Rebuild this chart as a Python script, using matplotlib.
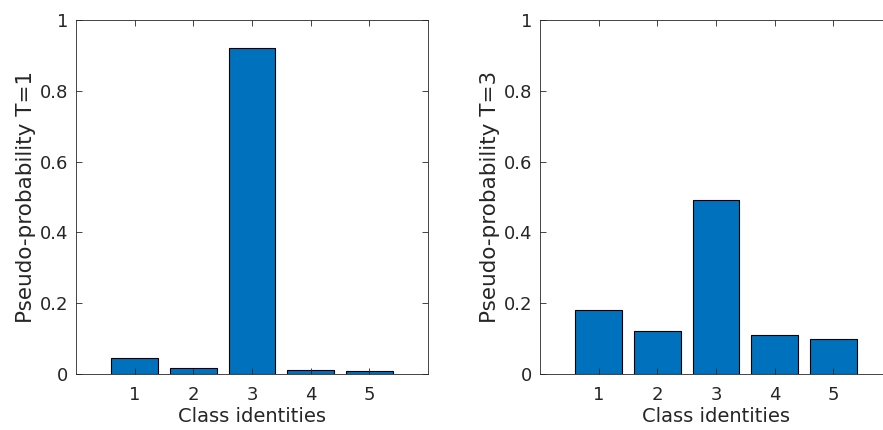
import matplotlib.pyplot as plt

classes = [1, 2, 3, 4, 5]
prob_t1 = [0.046, 0.016, 0.921, 0.012, 0.008]
prob_t3 = [0.182, 0.121, 0.492, 0.110, 0.099]
ylabels = ['Pseudo-probability T=1', 'Pseudo-probability T=3']

plt.rcParams['font.family'] = ['DejaVu Sans']
dark = '#262626'

fig = plt.figure(figsize=(8.83, 4.30), dpi=100)
W, H = 883, 430
positions = [(76, 20, 352, 354), (540, 20, 352, 354)]

for (x0, y0, w, h), vals, lab in zip(positions, [prob_t1, prob_t3], ylabels):
    ax = fig.add_axes([x0 / W, 1 - (y0 + h) / H, w / W, h / H])
    ax.bar(classes, vals, width=0.8, color='#0072BD', edgecolor='black', linewidth=0.8)
    ax.set_xlim(0, 6)
    ax.set_ylim(0, 1)
    ax.set_xticks(classes)
    ax.set_yticks([0, 0.2, 0.4, 0.6, 0.8, 1])
    ax.set_yticklabels(['0', '0.2', '0.4', '0.6', '0.8', '1'])
    ax.tick_params(direction='in', top=True, right=True, length=4, width=0.6,
                   colors=dark, labelsize=13)
    ax.tick_params(axis='x', pad=9)
    ax.tick_params(axis='y', pad=5.5)
    for s in ax.spines.values():
        s.set_color(dark)
        s.set_linewidth(0.6)
    ax.set_xlabel('Class identities', fontsize=14, color=dark, labelpad=2)
    ax.set_ylabel(lab, fontsize=15.5, color=dark, labelpad=3)

fig.savefig('out.png', dpi=100)
